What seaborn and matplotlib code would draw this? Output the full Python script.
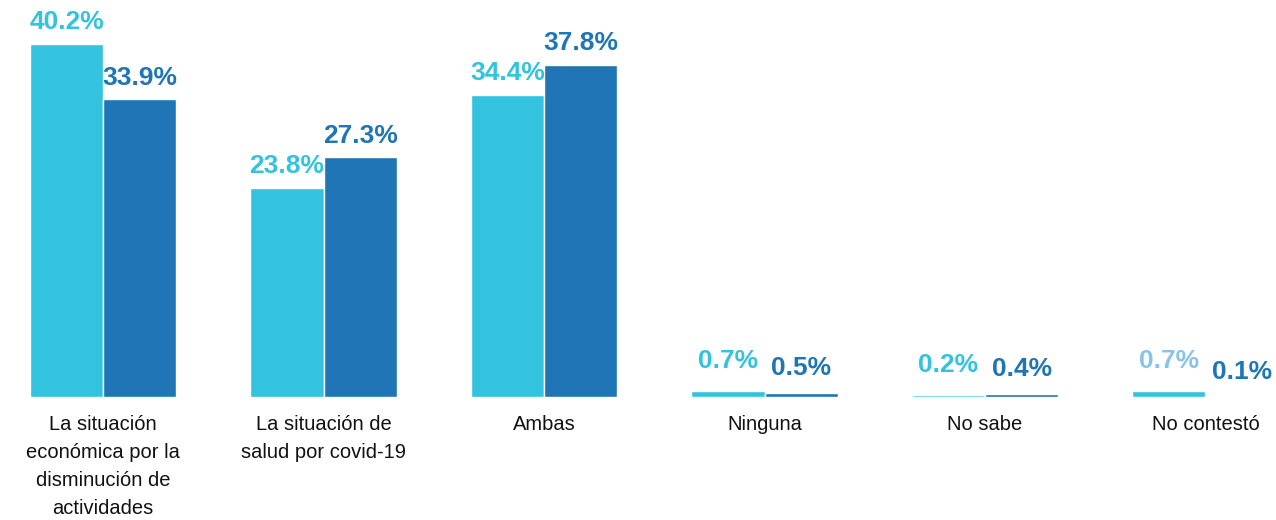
import pandas as pd
import matplotlib
matplotlib.use('Agg')
import matplotlib.pyplot as plt
import seaborn as sns

# -------------------------------------------------------------
# Data
# -------------------------------------------------------------
categories = [
    "La situación\neconómica por la\ndisminución de\nactividades",
    "La situación de\nsalud por covid-19",
    "Ambas",
    "Ninguna",
    "No sabe",
    "No contestó",
]
series_names = ["Serie 1", "Serie 2"]
values_1 = [40.2, 23.8, 34.4, 0.7, 0.2, 0.7]
values_2 = [33.9, 27.3, 37.8, 0.5, 0.4, 0.1]

LIGHT = "#33c3df"
DARK = "#1f75b5"
PALE = "#86c4ec"

df = pd.DataFrame({
    "cat": categories * 2,
    "serie": [series_names[0]] * len(categories) + [series_names[1]] * len(categories),
    "val": values_1 + values_2,
})

sns.set_theme(style="white")
plt.rcParams['font.family'] = ['Liberation Sans', 'DejaVu Sans']

fig = plt.figure(figsize=(12.76, 5.2), dpi=100)
ax = fig.add_axes([0, 0.2365, 1, 0.7635])

sns.barplot(data=df, x="cat", y="val", hue="serie", order=categories,
            hue_order=series_names, palette=[LIGHT, DARK], width=0.665,
            gap=0, legend=False, ax=ax, saturation=1)

# the last bar in the source is drawn in a paler blue
bars_2 = ax.containers[1]
bars_2.patches[-1].set_facecolor(PALE)

for i, (cont, vals) in enumerate(zip(ax.containers, [values_1, values_2])):
    for j, (p, v) in enumerate(zip(cont.patches, vals)):
        col = LIGHT if i == 0 else DARK
        if i == 0 and j == len(vals) - 1:
            col = PALE
        # small bars get their labels lifted a bit more, as in the source
        off = 7 if v > 5 else (13 if i == 0 else 9)
        x = p.get_x() + p.get_width() / 2
        ax.annotate(f"{v:.1f}%", (x, p.get_height()), xytext=(0, off),
                    textcoords="offset points", ha="center", va="bottom",
                    fontsize=19, fontweight="bold", color=col)

ax.set_xlim(-0.468, 5.32)
ax.set_ylim(0, 45.2)
ax.set_xlabel("")
ax.set_ylabel("")
ax.set_yticks([])
ax.tick_params(axis="x", length=0, pad=13, labelsize=14.5, colors="#111111")
for lbl in ax.get_xticklabels():
    lbl.set_linespacing(1.6)
for s in ax.spines.values():
    s.set_visible(False)

fig.savefig("out.png", dpi=100)
